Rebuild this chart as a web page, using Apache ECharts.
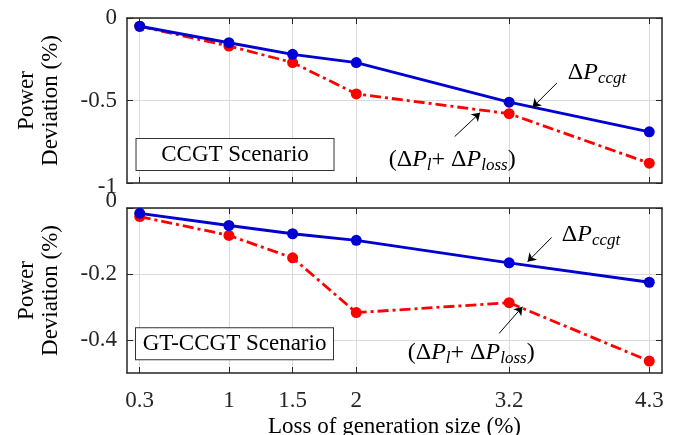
<!DOCTYPE html>
<html><head><meta charset="utf-8">
<script src="https://cdn.jsdelivr.net/npm/echarts@6/dist/echarts.min.js"></script>
<style>html,body{margin:0;padding:0;background:#fff}#c{width:675px;height:435px}</style>
</head><body><div id="c"></div>
<script>
// ---- data ----
const xValues = [0.3, 1, 1.5, 2, 3.2, 4.3];
const xTicks = [0.3, 1, 1.5, 2, 3.2, 4.3];
const ccgtTopValues = [-0.05, -0.15, -0.22, -0.27, -0.51, -0.69];
const lossTopValues = [-0.05, -0.17, -0.27, -0.46, -0.58, -0.88];
const ccgtBottomValues = [-0.016, -0.053, -0.078, -0.098, -0.166, -0.225];
const lossBottomValues = [-0.026, -0.083, -0.151, -0.317, -0.287, -0.464];
const topYTicks = [-1, -0.5, 0];
const bottomYTicks = [-0.4, -0.2, 0];
const xTitle = 'Loss of generation size (%)';
const yTitle = 'Power\nDeviation (%)';
const topScenario = 'CCGT Scenario';
const bottomScenario = 'GT-CCGT Scenario';

// ---- style ----
const FONT = 'Liberation Serif';
const AX = '#262626';
const GRIDC = '#dadada';
const BLUE = '#0000d0';
const RED = '#ff0000';

const pairs = (vals) => xValues.map((x, i) => [x, vals[i]]);

const rich = {
  u: {fontFamily: FONT, fontSize: 24, color: '#000', lineHeight: 28},
  i: {fontFamily: FONT, fontSize: 24, fontStyle: 'italic', color: '#000', lineHeight: 28},
  s: {fontFamily: FONT, fontSize: 17, fontStyle: 'italic', color: '#000', lineHeight: 14, verticalAlign: 'bottom'}
};
const ccgtLabel = '{u|Δ}{i|P}{s|ccgt}';
const lossLabel = '{u|(Δ}{i|P}{s|l}{u|+ Δ}{i|P}{s|loss}{u|)}';

function xAxisPair(gi, showLabels) {
  const common = {
    gridIndex: gi, type: 'value', min: 0.2, max: 4.4,
    axisLine: {show: true, onZero: false, lineStyle: {color: AX, width: 1.5}},
    axisTick: {show: true, inside: true, length: 6, customValues: xTicks, lineStyle: {color: AX, width: 1}}
  };
  return [
    Object.assign({}, common, {
      position: 'bottom',
      axisLabel: showLabels ? {show: true, customValues: xTicks, margin: 16, fontFamily: FONT, fontSize: 23, color: AX} : {show: false},
      splitLine: {show: true, lineStyle: {color: GRIDC, width: 1}},
      name: showLabels ? xTitle : '',
      nameLocation: 'middle', nameGap: 42,
      nameTextStyle: {fontFamily: FONT, fontSize: 23, color: '#000'}
    }),
    Object.assign({}, common, {position: 'top', axisLabel: {show: false}, splitLine: {show: false}})
  ];
}

function yAxisPair(gi, min, ticks, fmt) {
  const common = {
    gridIndex: gi, type: 'value', min: min, max: 0,
    axisLine: {show: true, onZero: false, lineStyle: {color: AX, width: 1.5}},
    axisTick: {show: true, inside: true, length: 6, customValues: ticks, lineStyle: {color: AX, width: 1}}
  };
  return [
    Object.assign({}, common, {
      position: 'left',
      axisLabel: {show: true, customValues: ticks, margin: 10, fontFamily: FONT, fontSize: 23, color: AX,
        formatter: fmt, rich: {
          lo: {fontFamily: FONT, fontSize: 23, color: AX, padding: [8, 0, 0, 0]},
          hi: {fontFamily: FONT, fontSize: 23, color: AX, padding: [0, 0, 14, 0]}
        }},
      splitLine: {show: true, lineStyle: {color: GRIDC, width: 1}},
      name: yTitle, nameLocation: 'middle', nameGap: 64,
      nameTextStyle: {fontFamily: FONT, fontSize: 23, color: '#000', lineHeight: 24}
    }),
    Object.assign({}, common, {position: 'right', axisLabel: {show: false}, splitLine: {show: false}})
  ];
}

const arrowLine = (a, b) => [{coord: a}, {coord: b}];
const markLineStyle = {
  silent: true, symbol: ['none', 'arrow'], symbolSize: 8,
  lineStyle: {color: '#000', width: 1, type: 'solid'}, label: {show: false}, animation: false
};
const textPoint = (coord, formatter) => ({
  coord: coord, symbol: 'rect', symbolSize: 1, itemStyle: {color: 'rgba(0,0,0,0)'},
  label: {show: true, position: 'inside', formatter: formatter, rich: rich}
});
const boxPoint = (coord, text) => ({
  coord: coord, symbol: 'rect', symbolSize: 1, itemStyle: {color: 'rgba(0,0,0,0)'},
  label: {show: true, position: 'inside', formatter: text, fontFamily: FONT, fontSize: 23, color: '#000',
    backgroundColor: '#fff', borderColor: '#333', borderWidth: 1, padding: [3, 8, 3, 8],
    width: 181, align: 'center', lineHeight: 25}
});

function lineSeries(xi, yi, vals, color, dashed, extra) {
  return Object.assign({
    type: 'line', xAxisIndex: xi, yAxisIndex: yi, data: pairs(vals),
    symbol: 'circle', symbolSize: 11, showSymbol: true,
    itemStyle: {color: color},
    lineStyle: {color: color, width: 2.8, type: dashed ? [11, 4, 3, 4] : 'solid'},
    animation: false, z: dashed ? 2 : 3
  }, extra || {});
}

const chart = echarts.init(document.getElementById('c'), null, {renderer: 'canvas'});
chart.setOption({
  backgroundColor: '#fff',
  animation: false,
  grid: [
    {left: 127, right: 13, top: 18, height: 165, containLabel: false, outerBoundsMode: 'none'},
    {left: 127, right: 13, top: 208, height: 165, containLabel: false, outerBoundsMode: 'none'}
  ],
  xAxis: [].concat(xAxisPair(0, false), xAxisPair(1, true)),
  yAxis: [].concat(
    yAxisPair(0, -1, topYTicks, v => v === -1 ? '{lo|-1}' : String(v)),
    yAxisPair(1, -0.5, bottomYTicks, v => v === 0 ? '{hi|0}' : String(v))
  ),
  series: [
    lineSeries(0, 0, lossTopValues, RED, true),
    lineSeries(0, 0, ccgtTopValues, BLUE, false, {
      markLine: Object.assign({}, markLineStyle, {data: [
        arrowLine([3.575, -0.394], [3.384, -0.541]),
        arrowLine([2.772, -0.719], [2.972, -0.574])
      ]}),
      markPoint: {silent: true, animation: false, data: [
        textPoint([3.89, -0.333], ccgtLabel),
        textPoint([2.753, -0.861], lossLabel),
        boxPoint([1.048, -0.827], topScenario)
      ]}
    }),
    lineSeries(2, 2, lossBottomValues, RED, true),
    lineSeries(2, 2, ccgtBottomValues, BLUE, false, {
      markLine: Object.assign({}, markLineStyle, {data: [
        arrowLine([3.534, -0.089], [3.345, -0.163]),
        arrowLine([3.121, -0.380], [3.305, -0.299])
      ]}),
      markPoint: {silent: true, animation: false, data: [
        textPoint([3.843, -0.082], ccgtLabel),
        textPoint([2.902, -0.439], lossLabel),
        boxPoint([1.044, -0.411], bottomScenario)
      ]}
    })
  ]
});
</script>
</body></html>
